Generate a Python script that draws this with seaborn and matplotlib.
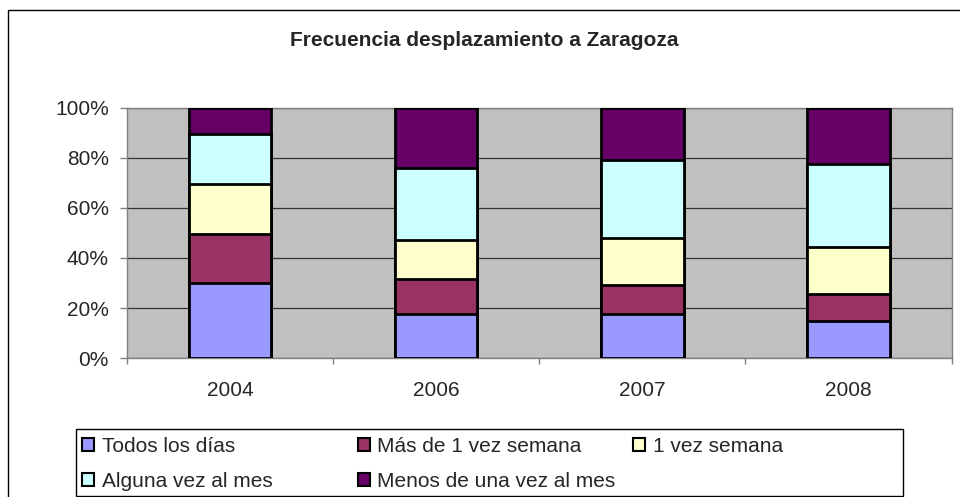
import matplotlib
matplotlib.use("Agg")
import matplotlib.pyplot as plt
from matplotlib.patches import Patch, Rectangle
import seaborn as sns
import pandas as pd
import numpy as np

# ---- data ----
years = ["2004", "2006", "2007", "2008"]
series_names = ["Todos los días", "Más de 1 vez semana", "1 vez semana",
                "Alguna vez al mes", "Menos de una vez al mes"]
todos = [30.1, 17.7, 17.6, 14.8]
mas_1_vez = [19.6, 13.9, 11.7, 11.0]
una_vez = [19.8, 15.7, 18.6, 18.7]
alguna_vez = [20.1, 28.7, 31.1, 33.1]
menos_una = [10.4, 24.0, 21.0, 22.4]
y_ticks = [0, 20, 40, 60, 80, 100]
y_tick_labels = ["0%", "20%", "40%", "60%", "80%", "100%"]
title = "Frecuencia desplazamiento a Zaragoza"

colors = ["#9999FF", "#993366", "#FFFFCC", "#CCFFFF", "#660066"]

sns.set_style("white")
plt.rcParams["font.family"] = ["Liberation Sans", "DejaVu Sans"]

W, H = 960, 497
fig = plt.figure(figsize=(9.6, 4.97), dpi=100)
ax = fig.add_axes([127 / W, 1 - 358.3 / H, (951.5 - 127) / W, (358.3 - 107.5) / H])
ax.set_facecolor("#C0C0C0")

values = [todos, mas_1_vez, una_vez, alguna_vez, menos_una]
cum = np.cumsum(np.array(values), axis=0)

# draw stacked bars from top down (cumulative heights)
for i in range(len(values) - 1, -1, -1):
    sns.barplot(x=years, y=cum[i], color=colors[i], saturation=1,
                edgecolor="black", linewidth=2, width=0.4, ax=ax, zorder=3)

ax.set_xlim(-0.5, 3.5)
ax.set_ylim(0, 100)
ax.set_yticks(y_ticks)
ax.set_yticklabels(y_tick_labels)
ax.yaxis.grid(True, color="#333333", linewidth=0.9, zorder=1)
ax.xaxis.grid(False)
ax.set_axisbelow(True)
ax.set_xlabel("")
ax.set_ylabel("")

for s in ax.spines.values():
    s.set_color("#808080")
    s.set_linewidth(1)

ax.tick_params(axis="y", which="major", direction="out", length=5, width=1,
               color="#808080", pad=8, labelsize=15, left=True)
ax.tick_params(axis="x", which="major", length=0, pad=16, labelsize=15, bottom=True)
ax.set_xticks(range(len(years)))
ax.set_xticklabels(years)
ax.set_xticks([-0.5, 0.5, 1.5, 2.5, 3.5], minor=True)
ax.tick_params(axis="x", which="minor", direction="out", length=4.5, width=1,
               color="#808080", bottom=True)

fig.text(484 / W, 1 - 46 / H, title, ha="center", va="baseline",
         fontsize=15, fontweight="bold")

# legend: three equal-width columns
handles = [Patch(facecolor=c, edgecolor="black", linewidth=1.5, label=n)
           for c, n in zip(colors, series_names)]
columns = [[0, 3], [1, 4], [2]]
col_x = [82.3, 357.7, 633.0]
for cols, x0 in zip(columns, col_x):
    fig.legend([handles[k] for k in cols], [series_names[k] for k in cols],
               ncol=1, loc="upper left", bbox_to_anchor=(x0 / W, 1 - 437 / H),
               frameon=False, fontsize=15, borderpad=0, borderaxespad=0,
               handlelength=0.57, handleheight=0.57, handletextpad=0.38,
               labelspacing=0.78)

# legend box and outer chart border
fig.add_artist(Rectangle((76 / W, 1 - 496 / H), (903 - 76) / W, (496 - 429) / H,
                         transform=fig.transFigure, fill=False,
                         edgecolor="black", linewidth=1))
fig.add_artist(Rectangle((8 / W, -0.2), 1.5, (1 - 10 / H) + 0.2,
                         transform=fig.transFigure, fill=False,
                         edgecolor="black", linewidth=1, clip_on=False))

fig.savefig("out.png", dpi=100, facecolor="white")
